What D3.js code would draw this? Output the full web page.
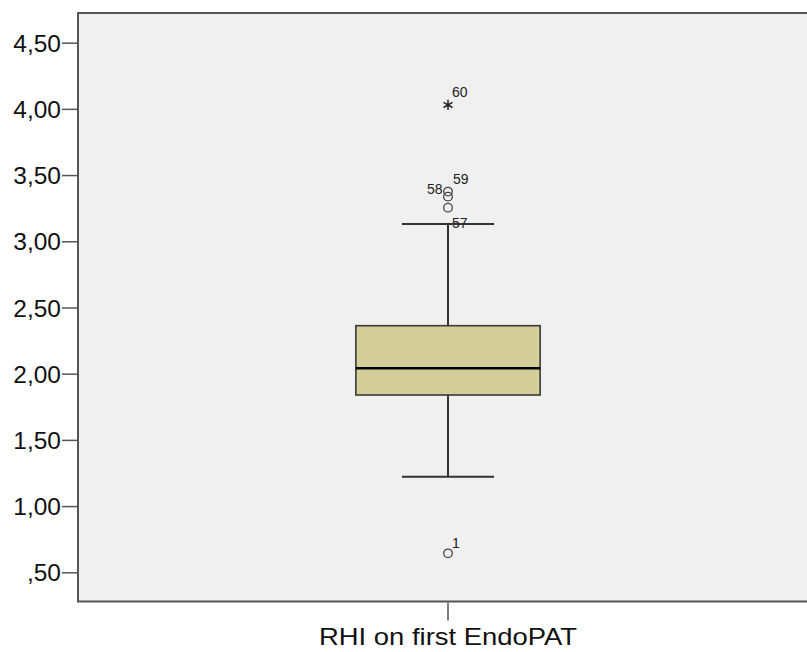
<!DOCTYPE html>
<html>
<head>
<meta charset="utf-8">
<script src="https://cdn.jsdelivr.net/npm/d3@7"></script>
<style>
    body { margin: 0; background: #fff; }
    text { font-family: Arial, "Liberation Sans", sans-serif; fill: #111; }
    .axis path { display: none; }
    .axis line { stroke: #555; stroke-width: 1.5; }
</style>
</head>
<body>
<svg id="chart" width="807" height="652"></svg>
<script>
// Data
var categories = ["RHI on first EndoPAT"];
var boxStats = [{ whiskerLow: 1.222, q1: 1.839, median: 2.041, q3: 2.3625, whiskerHigh: 3.13 }];
var outlierValues = [3.375, 3.337, 3.254, 0.643];
var outlierIds = ["59", "58", "57", "1"];
var extremeValues = [4.03];
var extremeIds = ["60"];
var yTicks = [0.5, 1.0, 1.5, 2.0, 2.5, 3.0, 3.5, 4.0, 4.5];

// label offsets (layout only)
var outlierLabelOffsets = [[5, -8], [-21, -3], [4, 20], [4, -5]];
var extremeLabelOffsets = [[4, -8]];

var svg1 = d3.select("#chart");
var margin = { top: 13, left: 78, right: -11, bottom: 50.5 };
var width = 807 - margin.left - margin.right;
var height = 652 - margin.top - margin.bottom;

var x = d3.scaleBand()
    .domain(categories)
    .range([margin.left, margin.left + width]);

var y = d3.scaleLinear()
    .domain([0.2795, 4.724])
    .range([margin.top + height, margin.top]);

// Plot background
svg1.append("rect")
    .attr("x", margin.left)
    .attr("y", margin.top)
    .attr("width", width)
    .attr("height", height)
    .style("fill", "#f0f0f0")
    .style("stroke", "#555")
    .style("stroke-width", 2);

var fmt = function (d) {
    return d3.format(".2f")(d).replace(".", ",").replace(/^0/, "");
};

var yAxis = svg1.append("g")
    .attr("class", "axis")
    .attr("transform", "translate(" + (margin.left - 1) + ",0)")
    .call(d3.axisLeft(y).tickValues(yTicks).tickFormat(fmt).tickSize(15).tickPadding(1));
yAxis.selectAll("text")
    .style("font-size", "24.5px")
    .attr("dy", "0.35em");

var xAxis = svg1.append("g")
    .attr("class", "axis")
    .attr("transform", "translate(0," + (margin.top + height + 1) + ")")
    .call(d3.axisBottom(x).tickSize(18).tickPadding(7));
xAxis.selectAll("text")
    .style("font-size", "24px")
    .attr("textLength", 258)
    .attr("lengthAdjust", "spacingAndGlyphs")
    .attr("dy", "0.71em");

// Box
var bw = x.bandwidth() * 0.249;
var cx = x(categories[0]) + x.bandwidth() / 2;
var box = svg1.selectAll("g.box")
    .data(boxStats)
    .enter()
    .append("g")
    .attr("class", "box");

box.append("line")
    .attr("x1", cx).attr("x2", cx)
    .attr("y1", d => y(d.whiskerHigh))
    .attr("y2", d => y(d.q3))
    .style("stroke", "#333").style("stroke-width", 2);
box.append("line")
    .attr("x1", cx).attr("x2", cx)
    .attr("y1", d => y(d.q1))
    .attr("y2", d => y(d.whiskerLow))
    .style("stroke", "#333").style("stroke-width", 2);
box.selectAll("line.cap")
    .data(d => [d.whiskerLow, d.whiskerHigh])
    .enter()
    .append("line")
    .attr("class", "cap")
    .attr("x1", cx - bw / 4).attr("x2", cx + bw / 4)
    .attr("y1", d => y(d)).attr("y2", d => y(d))
    .style("stroke", "#333").style("stroke-width", 2);
box.append("rect")
    .attr("x", cx - bw / 2)
    .attr("y", d => y(d.q3))
    .attr("width", bw)
    .attr("height", d => y(d.q1) - y(d.q3))
    .style("fill", "#d4cf98")
    .style("stroke", "#3a3a3a")
    .style("stroke-width", 1.6);
box.append("line")
    .attr("x1", cx - bw / 2).attr("x2", cx + bw / 2)
    .attr("y1", d => y(d.median)).attr("y2", d => y(d.median))
    .style("stroke", "#000").style("stroke-width", 2.5);

// Outliers
svg1.selectAll("circle.outlier")
    .data(outlierValues)
    .enter()
    .append("circle")
    .attr("class", "outlier")
    .attr("cx", cx)
    .attr("cy", d => y(d))
    .attr("r", 4.3)
    .style("fill", "none")
    .style("stroke", "#444")
    .style("stroke-width", 1.3);

svg1.selectAll("text.outlier_label")
    .data(outlierValues)
    .enter()
    .append("text")
    .attr("class", "outlier_label")
    .attr("x", (d, i) => cx + outlierLabelOffsets[i][0])
    .attr("y", (d, i) => y(d) + outlierLabelOffsets[i][1])
    .style("font-size", "14px")
    .style("fill", "#222")
    .text((d, i) => outlierIds[i]);

// Extremes
svg1.selectAll("path.extreme")
    .data(extremeValues)
    .enter()
    .append("path")
    .attr("class", "extreme")
    .attr("transform", d => "translate(" + cx + "," + y(d) + ")")
    .attr("d", d3.symbol(d3.symbolAsterisk, 75))
    .style("fill", "none")
    .style("stroke", "#222")
    .style("stroke-width", 1.5);

svg1.selectAll("text.extreme_label")
    .data(extremeValues)
    .enter()
    .append("text")
    .attr("class", "extreme_label")
    .attr("x", (d, i) => cx + extremeLabelOffsets[i][0])
    .attr("y", (d, i) => y(d) + extremeLabelOffsets[i][1])
    .style("font-size", "14px")
    .style("fill", "#222")
    .text((d, i) => extremeIds[i]);
</script>
</body>
</html>
